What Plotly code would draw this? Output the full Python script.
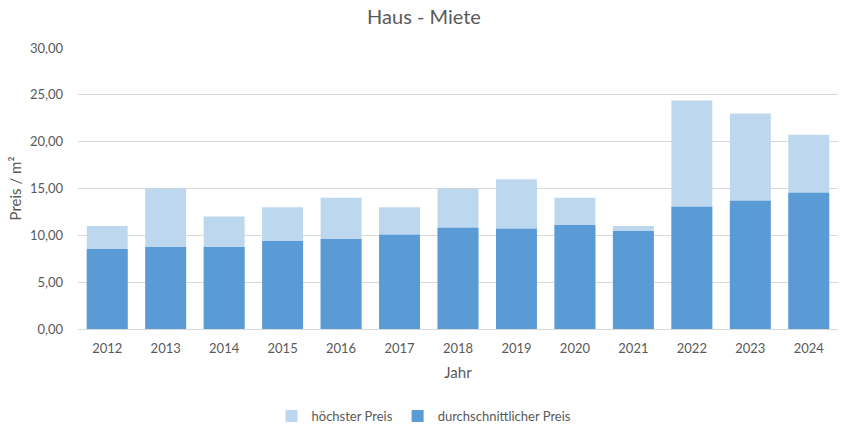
import plotly.graph_objects as go

years = ["2012", "2013", "2014", "2015", "2016", "2017", "2018", "2019", "2020", "2021", "2022", "2023", "2024"]
hoechster = [11.0, 15.0, 12.0, 13.0, 14.0, 13.0, 15.0, 16.0, 14.0, 11.0, 24.4, 23.0, 20.75]
durchschnitt = [8.55, 8.76, 8.76, 9.4, 9.6, 10.05, 10.8, 10.7, 11.1, 10.47, 13.05, 13.7, 14.55]
y_ticks = [0, 5, 10, 15, 20, 25, 30]

FONT = "Lato, Calibri, 'Open Sans', sans-serif"
GREY = "#595959"

fig = go.Figure()
fig.add_trace(go.Bar(x=years, y=hoechster, name="höchster Preis",
                     marker=dict(color="#BDD7EE", line=dict(width=0)), opacity=1))
fig.add_trace(go.Bar(x=years, y=durchschnitt, name="durchschnittlicher Preis",
                     marker=dict(color="#5B9BD5", line=dict(width=0)), opacity=1))

fig.update_layout(
    width=848, height=428,
    barmode="overlay", bargap=0.3,
    separators=",.",
    paper_bgcolor="white", plot_bgcolor="white",
    margin=dict(l=78, r=10, t=48, b=99, autoexpand=False),
    font=dict(family=FONT, color=GREY, size=13),
    title=dict(text="Haus - Miete", x=0.5, xanchor="center", y=0.96, yanchor="middle",
               font=dict(size=20, color=GREY, family=FONT)),
    legend=dict(orientation="h", xref="container", x=0.5, xanchor="center",
                yref="container", y=1 - 416 / 428, yanchor="middle",
                font=dict(size=13, color=GREY), itemwidth=30, traceorder="normal"),
    showlegend=True,
)
fig.update_xaxes(
    showgrid=False, showline=False, ticks="", automargin=False, ticklabelstandoff=10,
    title=dict(text="Jahr", font=dict(size=15, color=GREY), standoff=12),
    tickfont=dict(size=13, color=GREY),
)
fig.update_yaxes(
    range=[0, 30], tickvals=y_ticks, tickformat=".2f", automargin=False,
    showgrid=True, gridcolor="#D9D9D9", gridwidth=1,
    zeroline=True, zerolinecolor="#D9D9D9", zerolinewidth=1,
    showline=False, ticks="", ticklabelstandoff=14,
    title=dict(text="Preis / m²", font=dict(size=15, color=GREY), standoff=4),
    tickfont=dict(size=13, color=GREY),
)

fig.write_html("out.html")
